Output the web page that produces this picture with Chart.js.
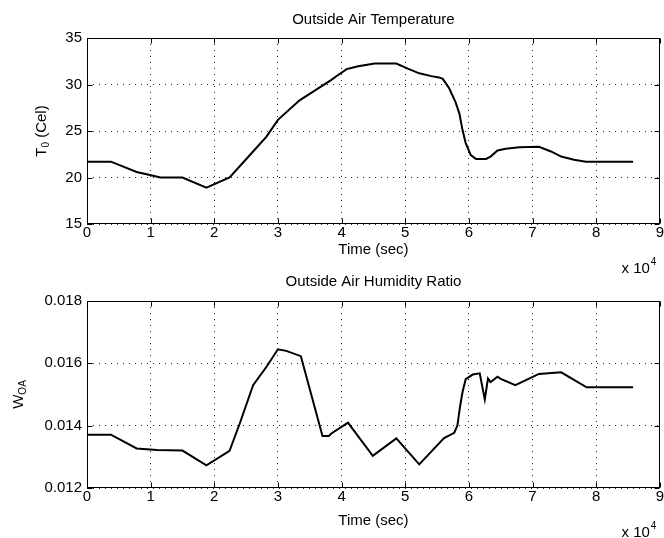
<!DOCTYPE html>
<html>
<head>
<meta charset="utf-8">
<script src="https://cdn.jsdelivr.net/npm/chart.js@4/dist/chart.umd.min.js"></script>
<style>
  html, body { margin: 0; padding: 0; background: #fff; }
  #wrap { position: relative; width: 664px; height: 538px; overflow: hidden; }
  canvas { position: absolute; left: 0; }
  #tempChart { top: 0; }
  #humChart { top: 269px; }
</style>
</head>
<body>
<div id="wrap">
  <canvas id="tempChart" width="664" height="280"></canvas>
  <canvas id="humChart" width="664" height="269"></canvas>
</div>
<script>
// Dados (tempo em segundos)
const tempTimes = [0, 3760, 7800, 10900, 11500, 15000, 18760, 22400, 26100, 28200, 30000, 33400, 38400, 39400,
  40800, 42600, 45200, 48600, 50400, 52200, 54100, 55300, 55900, 56900, 57900, 58500, 59000, 59500, 60300,
  61100, 62700, 63400, 64500, 65800, 67900, 71000, 72900, 74500, 76500, 78400, 85800];
const tempValues = [21.7, 21.7, 20.6, 20.1, 20.0, 20.0, 18.9, 20.0, 22.8, 24.4, 26.2, 28.3, 30.5, 31.0,
  31.65, 31.97, 32.25, 32.25, 31.7, 31.2, 30.9, 30.76, 30.6, 29.6, 28.1, 26.9, 25.1, 23.7, 22.4,
  22.0, 22.0, 22.25, 22.9, 23.1, 23.25, 23.3, 22.8, 22.25, 21.9, 21.7, 21.7];

const humTimes = [0, 3760, 7800, 11000, 15000, 18760, 22400, 24000, 26100, 28200, 30000, 31300, 33600, 37000,
  38000, 38400, 41000, 44900, 48600, 52200, 56100, 57700, 58200, 58600, 59000, 59500, 60600, 61700, 62500,
  63000, 63400, 64500, 65000, 67300, 71000, 74500, 78500, 85800];
const humValues = [0.01371, 0.01371, 0.01327, 0.01322, 0.0132, 0.01273, 0.01319, 0.01407, 0.0153, 0.01589,
  0.01645, 0.0164, 0.01623, 0.01367, 0.01367, 0.01375, 0.0141, 0.01303, 0.01359, 0.01276, 0.0136, 0.01377,
  0.01401, 0.0146, 0.01508, 0.01549, 0.01564, 0.01568, 0.01484, 0.01551, 0.0154, 0.01557, 0.0155, 0.0153,
  0.01566, 0.01571, 0.01523, 0.01523];

const xTicks = [0, 1, 2, 3, 4, 5, 6, 7, 8, 9];

Chart.defaults.font.family = "'Liberation Sans', Arial, sans-serif";
Chart.defaults.font.size = 15;
Chart.defaults.color = '#000';

// Moldura, marcas internas, rótulo do eixo y com subscrito e "x 10^4"
const matlabAxes = {
  id: 'matlabAxes',
  afterDraw(chart, args, opts) {
    const { ctx, chartArea: a, scales: { x, y } } = chart;
    const l = Math.round(a.left) + 0.5, r = Math.round(a.right) - 0.5;
    const t = Math.round(a.top) + 0.5, b = Math.round(a.bottom) - 0.5;
    ctx.save();
    ctx.strokeStyle = '#000';
    ctx.lineWidth = 1;
    ctx.beginPath();
    x.ticks.forEach(tk => {
      const px = Math.round(x.getPixelForValue(tk.value)) + 0.5;
      ctx.moveTo(px, b); ctx.lineTo(px, b - 5);
      ctx.moveTo(px, t); ctx.lineTo(px, t + 5);
    });
    y.ticks.forEach(tk => {
      const py = Math.round(y.getPixelForValue(tk.value)) + 0.5;
      ctx.moveTo(l, py); ctx.lineTo(l + 5, py);
      ctx.moveTo(r, py); ctx.lineTo(r - 5, py);
    });
    ctx.stroke();
    ctx.strokeRect(l, t, r - l, b - t);

    // rótulo do eixo y
    const big = "15px 'Liberation Sans', Arial, sans-serif";
    const small = "10px 'Liberation Sans', Arial, sans-serif";
    ctx.fillStyle = '#000';
    ctx.font = big;
    const w1 = ctx.measureText(opts.main).width;
    const w3 = ctx.measureText(opts.rest).width;
    ctx.font = small;
    const w2 = ctx.measureText(opts.sub).width;
    const total = w1 + w2 + w3;
    ctx.translate(a.left - opts.labelOffset, (a.top + a.bottom) / 2);
    ctx.rotate(-Math.PI / 2);
    ctx.textBaseline = 'alphabetic';
    ctx.textAlign = 'left';
    let cx = -total / 2;
    ctx.font = big;
    ctx.fillText(opts.main, cx, 0);
    cx += w1;
    ctx.font = small;
    ctx.fillText(opts.sub, cx, 3);
    cx += w2;
    ctx.font = big;
    ctx.fillText(opts.rest, cx, 0);
    ctx.restore();

    // multiplicador do eixo x
    ctx.save();
    ctx.fillStyle = '#000';
    ctx.textBaseline = 'alphabetic';
    ctx.textAlign = 'right';
    ctx.font = big;
    ctx.fillText('x 10', a.right - 10, a.bottom + 49);
    ctx.textAlign = 'left';
    ctx.font = small;
    ctx.fillText('4', a.right - 9, a.bottom + 41);
    ctx.restore();
  }
};

function makeChart(canvasId, times, values, yMin, yMax, yStep, yDecimals, title, titlePad, xHeight, xTitlePad, yLabel) {
  const ctx = document.getElementById(canvasId).getContext('2d');
  return new Chart(ctx, {
    type: 'line',
    data: {
      datasets: [{
        data: times.map((t, i) => ({ x: t, y: values[i] })),
        borderColor: '#000',
        borderWidth: 2,
        pointRadius: 0,
        tension: 0,
        fill: false
      }]
    },
    options: {
      responsive: false,
      animation: false,
      devicePixelRatio: 1,
      layout: { padding: { left: 0, right: 3, top: 0, bottom: 0 } },
      plugins: {
        legend: { display: false },
        tooltip: { enabled: false },
        title: {
          display: true,
          text: title,
          fullSize: false,
          color: '#000',
          font: { size: 15, weight: 'normal', lineHeight: 1.2 },
          padding: titlePad
        },
        matlabAxes: yLabel
      },
      scales: {
        x: {
          type: 'linear',
          min: 0,
          max: 90000,
          afterBuildTicks: s => { s.ticks = xTicks.map(v => ({ value: v * 10000 })); },
          ticks: {
            color: '#000',
            padding: 0,
            maxRotation: 0,
            callback: v => String(v / 10000)
          },
          grid: { color: 'rgba(0,0,0,0.85)', lineWidth: 1, drawTicks: false },
          border: { display: false, dash: [1, 5] },
          title: {
            display: true,
            text: 'Time (sec)',
            color: '#000',
            font: { size: 15, lineHeight: 1.2 },
            padding: { top: 0, bottom: xTitlePad }
          },
          afterFit: s => { s.height = xHeight; }
        },
        y: {
          min: yMin,
          max: yMax,
          ticks: {
            stepSize: yStep,
            color: '#000',
            padding: 5,
            callback: v => v.toFixed(yDecimals)
          },
          grid: { color: 'rgba(0,0,0,0.85)', lineWidth: 1, drawTicks: false },
          border: { display: false, dash: [1, 5] },
          afterFit: s => { s.width = 87; }
        }
      }
    },
    plugins: [matlabAxes]
  });
}

makeChart('tempChart', tempTimes, tempValues, 15, 35, 5, 0,
  'Outside Air Temperature', { top: 11, bottom: 9 }, 56, 21,
  { main: 'T', sub: '0', rest: ' (Cel)', labelOffset: 41.5 });

makeChart('humChart', humTimes, humValues, 0.012, 0.018, 0.002, 3,
  'Outside Air Humidity Ratio', { top: 3.5, bottom: 10.5 }, 50, 8,
  { main: 'W', sub: 'OA', rest: '', labelOffset: 64.3 });
</script>
</body>
</html>
